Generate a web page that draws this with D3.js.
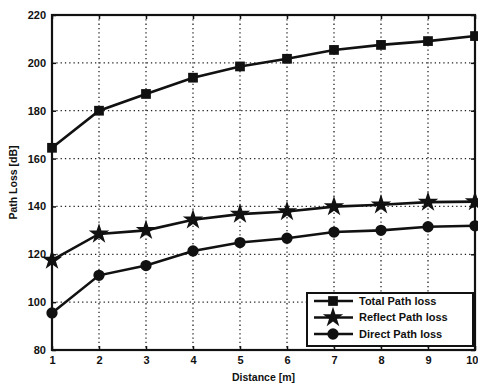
<!DOCTYPE html>
<html><head><meta charset="utf-8">
<script src="https://cdn.jsdelivr.net/npm/d3@7"></script>
<style>body{margin:0;background:#fff}svg{display:block}</style>
</head><body><svg id="c" width="478" height="386"></svg>
<script>
const distance = [1,2,3,4,5,6,7,8,9,10];
const totalLoss = [164.5,180,187,193.8,198.5,201.7,205.4,207.5,209.1,211.2];
const reflectLoss = [117.6,128.5,130,134.4,136.8,137.9,139.9,140.7,141.8,142];
const directLoss = [95.5,111.2,115.3,121.4,124.9,126.7,129.3,130,131.5,131.9];
const xTicks = [1,2,3,4,5,6,7,8,9,10];
const yTicks = [80,100,120,140,160,180,200,220];
const seriesNames = ["Total Path loss","Reflect Path loss","Direct Path loss"];
const seriesMarkers = ["square","star","circle"];

const svg = d3.select("#c");
const L=52,R=475,T=15,B=350;
const x = d3.scaleLinear().domain([1,10]).range([L,R]);
const y = d3.scaleLinear().domain([80,220]).range([B,T]);
const font = "'Liberation Sans', Arial, sans-serif";

// grid
const g = svg.append("g");
g.selectAll(".vg").data(xTicks.slice(1,-1)).enter().append("line")
  .attr("x1",d=>x(d)).attr("x2",d=>x(d)).attr("y1",T).attr("y2",B)
  .attr("stroke","#222").attr("stroke-width",1.3).attr("stroke-dasharray","1.3,3");
g.selectAll(".hg").data(yTicks.slice(1,-1)).enter().append("line")
  .attr("y1",d=>y(d)).attr("y2",d=>y(d)).attr("x1",L).attr("x2",R)
  .attr("stroke","#222").attr("stroke-width",1.3).attr("stroke-dasharray","1.3,3");

// axes
const xa = svg.append("g").attr("transform",`translate(0,${B})`)
  .call(d3.axisBottom(x).tickValues(xTicks).tickSize(-4).tickPadding(10).tickFormat(d3.format("d")));
const ya = svg.append("g").attr("transform",`translate(${L},0)`)
  .call(d3.axisLeft(y).tickValues(yTicks).tickSize(-4).tickPadding(6));
const xa2 = svg.append("g").attr("transform",`translate(0,${T})`)
  .call(d3.axisTop(x).tickValues(xTicks).tickSize(-4).tickFormat(""));
const ya2 = svg.append("g").attr("transform",`translate(${R},0)`)
  .call(d3.axisRight(y).tickValues(yTicks).tickSize(-4).tickFormat(""));
[xa,ya,xa2,ya2].forEach(a=>{
  a.select(".domain").remove();
  a.selectAll(".tick line").attr("stroke","#111").attr("stroke-width",1.5);
  a.selectAll("text").attr("font-family",font).attr("font-weight","bold").attr("font-size",11).attr("fill","#111");
});
xa.selectAll("text").attr("dy","0.35em");
xa.selectAll("text").filter(d=>d===10).attr("text-anchor","end").attr("x",3);
svg.append("rect").attr("x",L).attr("y",T).attr("width",R-L).attr("height",B-T)
  .attr("fill","none").attr("stroke","#111").attr("stroke-width",2.2);

// titles
svg.append("text").attr("x",(L+R)/2).attr("y",381).attr("text-anchor","middle")
  .attr("font-family",font).attr("font-weight","bold").attr("font-size",10.5).attr("fill","#111").text("Distance [m]");
svg.append("text").attr("transform",`translate(17,${(T+B)/2}) rotate(-90)`).attr("text-anchor","middle")
  .attr("font-family",font).attr("font-weight","bold").attr("font-size",10.5).attr("fill","#111").text("Path Loss [dB]");

const symType = {square:d3.symbolSquare, star:d3.symbolStar, circle:d3.symbolCircle};
const symSize = {square:95, star:130, circle:100};
const data = [totalLoss, reflectLoss, directLoss];
const line = d3.line().x((d,i)=>x(distance[i])).y(d=>y(d));
data.forEach((vals,k)=>{
  svg.append("path").attr("d",line(vals)).attr("fill","none").attr("stroke","#111").attr("stroke-width",2.6);
  svg.selectAll(null).data(vals).enter().append("path")
    .attr("transform",(d,i)=>`translate(${x(distance[i])},${y(d)})`)
    .attr("d",d3.symbol().type(symType[seriesMarkers[k]]).size(symSize[seriesMarkers[k]]))
    .attr("fill","#111");
});

// legend
const lg = svg.append("g");
lg.append("rect").attr("x",307).attr("y",293).attr("width",166).attr("height",53)
  .attr("fill","#fff").attr("stroke","#111").attr("stroke-width",2);
seriesNames.forEach((n,k)=>{
  const ly = 301 + k*16.5;
  lg.append("line").attr("x1",314).attr("x2",353).attr("y1",ly).attr("y2",ly).attr("stroke","#111").attr("stroke-width",2.6);
  lg.append("path").attr("transform",`translate(333,${ly})`)
    .attr("d",d3.symbol().type(symType[seriesMarkers[k]]).size(symSize[seriesMarkers[k]])).attr("fill","#111");
  lg.append("text").attr("x",359).attr("y",ly).attr("dy","0.35em")
    .attr("font-family",font).attr("font-weight","bold").attr("font-size",11).attr("fill","#111").text(n);
});
</script></body></html>
